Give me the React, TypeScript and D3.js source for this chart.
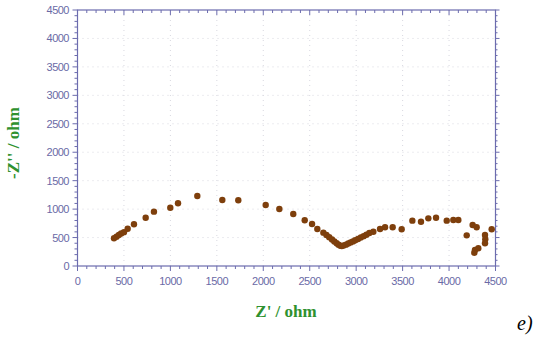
import React from "react";
import * as d3 from "d3";

const zReal = [393, 420, 445, 470, 500, 540, 608, 734, 823, 999, 1082, 1290, 1559, 1731, 2026, 2173, 2323, 2446, 2525, 2582, 2647, 2680, 2710, 2740, 2765, 2790, 2810, 2830, 2845, 2865, 2890, 2915, 2940, 2965, 2990, 3020, 3050, 3080, 3110, 3142, 3185, 3257, 3311, 3393, 3490, 3605, 3698, 3777, 3860, 3975, 4046, 4100, 4190, 4254, 4297, 4272, 4279, 4315, 4387, 4390, 4387, 4459];
const zImag = [487, 515, 545, 570, 595, 656, 733, 849, 955, 1025, 1102, 1230, 1160, 1155, 1072, 1002, 914, 803, 738, 650, 586, 545, 505, 465, 430, 400, 375, 355, 350, 360, 375, 395, 415, 432, 452, 475, 500, 525, 550, 580, 603, 650, 680, 680, 645, 797, 779, 838, 849, 797, 809, 809, 539, 721, 680, 234, 281, 311, 545, 469, 399, 645];
const xTicks = [0, 500, 1000, 1500, 2000, 2500, 3000, 3500, 4000, 4500];
const yTicks = [0, 500, 1000, 1500, 2000, 2500, 3000, 3500, 4000, 4500];

const L = 77.5, R = 495.5, T = 10, B = 266;
const axisColor = "#6c6cae";
const labelColor = "#6a6aa6";

export default function App() {
  const x = d3.scaleLinear().domain([0, 4500]).range([L, R]);
  const y = d3.scaleLinear().domain([0, 4500]).range([B, T]);
  const minor = d3.range(0, 4501, 100);
  const pts = zReal.map((v, i) => [v, zImag[i]]);
  return (
    <svg width={534} height={339} style={{ position: "absolute", left: 0, top: 0, background: "#fff" }}>
      <rect x={0} y={0} width={534} height={339} fill="#fff" />
      {xTicks.slice(1, -1).map((t) => (
        <line key={"gx" + t} x1={x(t)} x2={x(t)} y1={T} y2={B} stroke="#d8d8e0" strokeWidth={1} strokeDasharray="1,4" />
      ))}
      {yTicks.slice(1, -1).map((t) => (
        <line key={"gy" + t} x1={L} x2={R} y1={y(t)} y2={y(t)} stroke="#d8d8e0" strokeWidth={1} strokeDasharray="1,4" />
      ))}
      <rect x={L} y={T} width={R - L} height={B - T} fill="none" stroke={axisColor} strokeWidth={1.2} />
      {minor.map((t) => {
        const major = t % 500 === 0;
        const len = major ? 5 : 3;
        return (
          <g key={"m" + t}>
            <line x1={x(t)} x2={x(t)} y1={B} y2={B + len} stroke={axisColor} strokeWidth={1} />
            <line x1={x(t)} x2={x(t)} y1={T} y2={T + len} stroke={axisColor} strokeWidth={1} />
            <line x1={L - len} x2={L} y1={y(t)} y2={y(t)} stroke={axisColor} strokeWidth={1} />
            <line x1={R} x2={R + len - 1} y1={y(t)} y2={y(t)} stroke={axisColor} strokeWidth={1} />
          </g>
        );
      })}
      {xTicks.map((t) => (
        <text key={"xl" + t} x={x(t)} y={285} textAnchor="middle" fontFamily="Arial, 'Liberation Sans', sans-serif" fontSize={11} fill={labelColor} letterSpacing={-0.5}>
          {t}
        </text>
      ))}
      {yTicks.map((t) => (
        <text key={"yl" + t} x={69} y={y(t) + 4} textAnchor="end" fontFamily="Arial, 'Liberation Sans', sans-serif" fontSize={11} fill={labelColor} letterSpacing={-0.5}>
          {t}
        </text>
      ))}
      {pts.map((p, i) => (
        <circle key={"p" + i} cx={x(p[0])} cy={y(p[1])} r={3.2} fill="#7e3f0c" />
      ))}
      <text x={286} y={317} textAnchor="middle" fontFamily="'Liberation Serif', 'Times New Roman', serif" fontWeight="bold" fontSize={17} fill="#2f912f">
        Z' / ohm
      </text>
      <text transform="translate(19,143) rotate(-90)" textAnchor="middle" fontFamily="'Liberation Serif', 'Times New Roman', serif" fontWeight="bold" fontSize={17} fill="#2f912f">
        -Z'' / ohm
      </text>
      <text x={517} y={330} fontFamily="'Liberation Serif', 'Times New Roman', serif" fontStyle="italic" fontSize={20} fill="#000">
        e)
      </text>
    </svg>
  );
}
